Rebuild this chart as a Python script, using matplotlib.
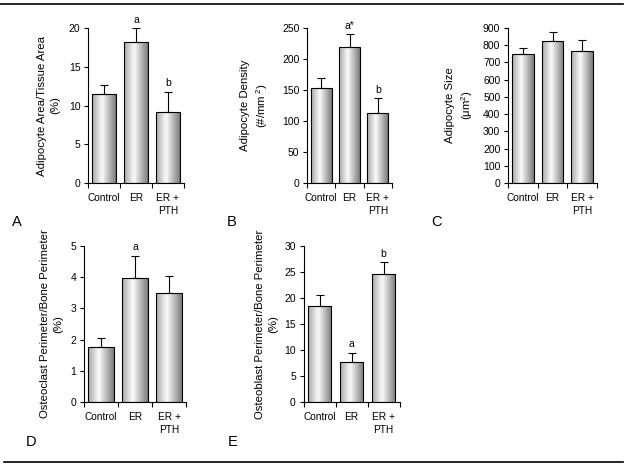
import matplotlib
matplotlib.use("Agg")
import matplotlib.pyplot as plt
import matplotlib.transforms as mtransforms
from matplotlib.colors import LinearSegmentedColormap
from matplotlib.lines import Line2D
import numpy as np

plt.rcParams['font.family'] = ['Liberation Sans', 'DejaVu Sans']
plt.rcParams['mathtext.fontset'] = 'custom'
plt.rcParams['mathtext.rm'] = 'Liberation Sans'
plt.rcParams['mathtext.it'] = 'Liberation Sans:italic'
plt.rcParams['mathtext.bf'] = 'Liberation Sans:bold'

categories = ["Control", "ER", "ER +\nPTH"]

A_mean = [11.5, 18.2, 9.1]
A_err = [1.2, 1.8, 2.7]
A_sig = ["", "a", "b"]

B_mean = [154, 220, 113]
B_err = [15, 20, 24]
B_sig = ["", "a*", "b"]

C_mean = [747, 824, 768]
C_err = [39, 51, 60]
C_sig = ["", "", ""]

D_mean = [1.77, 3.98, 3.49]
D_err = [0.29, 0.71, 0.56]
D_sig = ["", "a", ""]

E_mean = [18.45, 7.7, 24.7]
E_err = [2.05, 1.8, 2.2]
E_sig = ["", "a", "b"]

W, H = 632, 468
fig = plt.figure(figsize=(W / 100, H / 100), dpi=100)

cmap = LinearSegmentedColormap.from_list(
    "cyl", [(0.0, "#a8a8a8"), (0.42, "#fbfbfb"), (1.0, "#7c7c7c")])
grad = np.linspace(0, 1, 64).reshape(1, -1)


def px_axes(left, right, top, bottom):
    return fig.add_axes([left / W, 1 - bottom / H, (right - left) / W, (bottom - top) / H])


def panel(box, means, errs, sigs, ymax, ystep, ylabel, label_right, letter, letter_xy, bw):
    ax = px_axes(*box)
    x = np.arange(len(categories))
    bars = ax.bar(x, means, bw, facecolor='none', edgecolor='black', linewidth=0.8, zorder=3)
    for b in bars:
        x0 = b.get_x()
        im = ax.imshow(grad, extent=[x0, x0 + b.get_width(), 0, b.get_height()],
                       aspect='auto', cmap=cmap, vmin=0, vmax=1, zorder=2, interpolation='bilinear')
        im.set_clip_path(b)
    ax.errorbar(x, means, yerr=[np.zeros(len(errs)), errs], fmt='none', ecolor='black',
                elinewidth=0.8, capsize=3, capthick=0.8, zorder=4)
    for xi, m, e, s in zip(x, means, errs, sigs):
        if s:
            ax.annotate(s, (xi, m + e), xytext=(0, 2.5), textcoords='offset points',
                        ha='center', va='bottom', fontsize=7.5)
    ax.set_xlim(-0.5, len(categories) - 0.5)
    ax.set_ylim(0, ymax)
    ax.set_yticks(np.arange(0, ymax + ystep / 2, ystep))
    ax.set_xticks(x)
    ax.set_xticklabels(categories, fontsize=7.3, linespacing=1.45)
    ax.set_xticks(np.arange(-0.5, len(categories), 1.0), minor=True)
    ax.tick_params(axis='x', which='major', length=0, pad=7)
    ax.tick_params(axis='x', which='minor', length=3.5, width=0.8, direction='out')
    ax.tick_params(axis='y', length=3, width=0.8, pad=2.5, labelsize=7.5)
    for sp in ['top', 'right']:
        ax.spines[sp].set_visible(False)
    for sp in ['left', 'bottom']:
        ax.spines[sp].set_linewidth(0.8)
    ax.set_ylabel(ylabel, fontsize=8.2, linespacing=1.35)
    tr = mtransforms.blended_transform_factory(fig.transFigure, ax.transAxes)
    ax.yaxis.set_label_coords(label_right / W, 0.5, transform=tr)
    fig.text(letter_xy[0] / W, 1 - letter_xy[1] / H, letter, fontsize=10.5, ha='left', va='center')
    return ax


panel((88, 184, 28, 183), A_mean, A_err, A_sig, 20, 5,
      "Adipocyte Area/Tissue Area\n(%)", 60, "A", (12, 222), 0.72)
panel((307, 392, 28, 183), B_mean, B_err, B_sig, 250, 50,
      "Adipocyte Density\n(#/mm$^{\\ 2}$)", 270, "B", (227, 222), 0.74)
panel((508, 597, 28, 183), C_mean, C_err, C_sig, 900, 100,
      "Adipocyte Size\n(\u03bcm$^{2}$)", 475, "C", (431, 222), 0.72)
panel((84, 186, 246, 402), D_mean, D_err, D_sig, 5, 1,
      "Osteoclast Perimeter/Bone Perimeter\n(%)", 63, "D", (26, 442), 0.74)
panel((303.5, 399.5, 246, 402), E_mean, E_err, E_sig, 30, 5,
      "Osteoblast Perimeter/Bone Perimeter\n(%)", 278, "E", (228, 442), 0.72)

fig.add_artist(Line2D([0 / W, 623 / W], [1 - 4 / H, 1 - 4 / H], color='black', linewidth=1.2,
                      transform=fig.transFigure))
fig.add_artist(Line2D([4 / W, 623 / W], [1 - 462 / H, 1 - 462 / H], color='black', linewidth=1.2,
                      transform=fig.transFigure))

fig.savefig("out.png", dpi=100, facecolor='white')
